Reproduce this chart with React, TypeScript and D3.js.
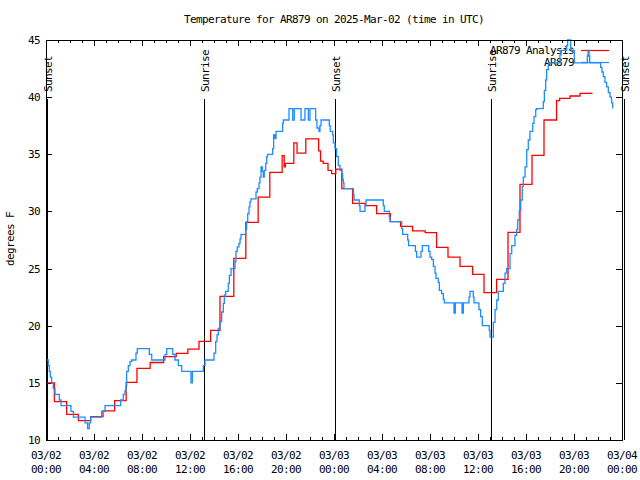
import React from "react";
import * as d3 from "d3";

// ---- data (hours since 03/02 00:00 UTC, degrees F) ----
const analysisHours = [0, 0.7, 1.72, 2.7, 3.72, 4.75, 5.72, 6.68, 7.58, 8.68, 9.8, 10.85, 11.82, 12.75, 13.72, 14.5, 15.65, 16.65, 17.68, 18.65, 19.68, 19.85, 19.95, 20.65, 20.92, 21.65, 22.72, 22.88, 23.1, 23.5, 23.8, 24.15, 24.65, 25.55, 26.6, 27.55, 28.7, 29.55, 30.55, 31.6, 32.55, 33.5, 34.5, 35.55, 36.5, 37.55, 38.5, 39.5, 40.5, 41.5, 42.55, 42.8, 43.67, 44.5, 45.55];
const analysisTemps = [15.0, 13.35, 12.25, 11.7, 12.05, 12.55, 13.45, 15.05, 16.27, 16.78, 17.3, 17.58, 17.95, 18.63, 19.6, 22.57, 25.9, 29.05, 31.26, 33.42, 34.88, 33.9, 34.2, 36.0, 35.1, 36.34, 35.3, 34.4, 34.2, 33.6, 33.3, 33.7, 32.0, 30.7, 30.5, 29.8, 29.1, 28.7, 28.3, 28.15, 26.86, 26.0, 25.2, 24.5, 22.9, 24.06, 28.17, 32.37, 34.9, 38.0, 39.7, 39.9, 40.1, 40.33, 40.33];

const obsHours = [0, 0.19, 0.28, 0.36, 0.47, 0.61, 0.75, 1.11, 1.25, 2.08, 2.28, 3.25, 3.47, 3.61, 3.72, 4.64, 4.92, 6.22, 6.44, 6.58, 6.67, 6.72, 6.86, 7.0, 7.14, 7.5, 7.61, 8.61, 8.81, 9.92, 10.06, 10.56, 10.75, 11.03, 11.31, 12.08, 12.2, 13.11, 13.25, 14.0, 14.14, 14.25, 14.36, 14.5, 14.64, 14.78, 14.86, 14.97, 15.19, 15.28, 15.42, 15.75, 15.83, 15.94, 16.08, 16.17, 16.25, 16.64, 16.72, 16.81, 16.92, 17.0, 17.08, 17.5, 17.61, 17.75, 17.83, 17.92, 18.03, 18.11, 18.19, 18.31, 18.39, 18.47, 18.89, 18.97, 19.08, 19.17, 19.72, 19.78, 20.25, 20.56, 20.69, 21.25, 21.58, 21.86, 22.0, 22.47, 22.58, 22.75, 22.83, 22.92, 23.61, 23.69, 23.89, 23.94, 24.08, 24.22, 24.36, 24.5, 24.64, 24.72, 24.78, 24.83, 25.61, 25.67, 26.11, 26.17, 26.58, 26.67, 28.11, 28.19, 28.61, 28.67, 29.64, 29.72, 30.14, 30.22, 30.78, 30.89, 31.25, 31.36, 31.89, 32.0, 32.14, 32.28, 32.42, 32.5, 32.69, 32.78, 32.97, 33.11, 33.19, 34.0, 34.11, 34.67, 34.78, 35.25, 35.33, 35.61, 35.67, 36.08, 36.22, 36.36, 36.94, 37.0, 37.28, 37.42, 37.56, 37.69, 38.11, 38.25, 38.39, 38.67, 38.81, 39.08, 39.22, 39.31, 39.44, 39.56, 39.69, 39.78, 39.92, 40.06, 40.19, 40.33, 40.56, 40.67, 40.81, 40.89, 41.44, 41.53, 41.64, 41.72, 41.86, 42.83, 42.92, 43.39, 43.47, 43.72, 43.81, 44.03, 45.11, 45.17, 45.25, 45.31, 46.22, 46.33, 46.44, 46.58, 46.72, 46.86, 47.0, 47.13, 47.22];
const obsTemps = [17.0, 16.5, 16.0, 15.5, 15.0, 14.5, 14.0, 13.5, 13.0, 12.5, 12.0, 11.5, 11.0, 11.5, 12.0, 12.5, 13.0, 13.5, 14.0, 14.3, 14.7, 16.0, 16.5, 16.85, 17.0, 17.6, 18.0, 17.5, 17.0, 17.5, 18.0, 17.5, 17.0, 16.5, 16.0, 15.0, 16.0, 16.5, 17.0, 17.6, 18.6, 19.2, 19.77, 20.35, 21.2, 21.96, 22.7, 23.0, 23.7, 24.4, 25.0, 25.6, 26.5, 26.9, 27.2, 27.6, 28.0, 28.4, 29.1, 29.8, 30.4, 30.85, 31.1, 31.7, 32.0, 32.5, 33.0, 33.9, 33.5, 33.0, 33.6, 34.2, 34.8, 35.0, 35.5, 36.7, 36.4, 37.0, 37.7, 38.0, 39.0, 38.0, 39.0, 38.0, 39.0, 38.0, 39.0, 38.0, 37.3, 37.0, 37.5, 38.0, 37.5, 37.0, 36.7, 36.0, 35.5, 34.8, 34.0, 33.6, 33.3, 32.8, 32.5, 32.0, 31.5, 31.0, 30.5, 30.0, 30.5, 31.0, 30.5, 30.0, 29.5, 29.1, 28.5, 28.0, 27.5, 27.0, 26.5, 26.0, 26.5, 27.0, 26.5, 26.0, 25.8, 25.2, 24.6, 24.15, 23.8, 23.1, 22.8, 22.3, 22.0, 21.1, 22.0, 21.1, 22.0, 22.5, 23.0, 22.5, 22.0, 21.4, 20.8, 20.0, 19.6, 19.0, 20.3, 21.4, 22.25, 23.0, 23.7, 24.6, 25.0, 26.3, 27.0, 27.9, 28.4, 29.25, 30.1, 31.0, 32.2, 33.0, 33.9, 35.4, 36.25, 37.0, 37.7, 38.3, 38.9, 39.0, 39.6, 40.6, 41.5, 42.4, 43.0, 43.7, 44.1, 44.5, 45.0, 44.3, 44.1, 43.0, 43.6, 44.1, 43.6, 43.0, 42.6, 42.2, 41.8, 41.3, 40.9, 40.4, 40.0, 39.5, 39.0];

const sunEventHours = [0.12, 13.17, 24.1, 37.08, 48.17];
const sunEventLabels = ["Sunset", "Sunrise", "Sunset", "Sunrise", "Sunset"];

const xTickHours = [0, 4, 8, 12, 16, 20, 24, 28, 32, 36, 40, 44, 48];
const xTickDates = ["03/02", "03/02", "03/02", "03/02", "03/02", "03/02", "03/03", "03/03", "03/03", "03/03", "03/03", "03/03", "03/04"];
const xTickTimes = ["00:00", "04:00", "08:00", "12:00", "16:00", "20:00", "00:00", "04:00", "08:00", "12:00", "16:00", "20:00", "00:00"];
const yTicks = [10, 15, 20, 25, 30, 35, 40, 45];

const seriesNames = ["AR879 Analysis", "AR879"];
const seriesColors = ["#ff0000", "#1e8cff"];

const titleText = "Temperature for AR879 on 2025-Mar-02 (time in UTC)";
const yLabel = "degrees F";

const FONT = "'DejaVu Sans Mono', monospace";

export default function App() {
  const L = 46, R = 622, T = 40, B = 440;
  const x = d3.scaleLinear().domain([0, 48]).range([L, R]);
  const y = d3.scaleLinear().domain([10, 45]).range([B, T]);

  const line = d3
    .line<[number, number]>()
    .x((d) => x(d[0]))
    .y((d) => y(d[1]))
    .curve(d3.curveStepAfter);

  const redPts: [number, number][] = analysisHours.map((h, i) => [h, analysisTemps[i]]);
  const bluePts: [number, number][] = obsHours.map((h, i) => [h, obsTemps[i]]);

  const minorHours = d3.range(0, 49, 1);
  const txt = { fontFamily: FONT, fontSize: 11, letterSpacing: -0.62, fill: "#000" } as const;

  return (
    <svg width={640} height={480} style={{ display: "block", position: "absolute", left: 0, top: 0, background: "#fff" }}>
      <rect x={0} y={0} width={640} height={480} fill="#fff" />
      <text x={334} y={23} textAnchor="middle" {...txt}>{titleText}</text>

      {/* y label */}
      <text transform={`translate(14,239) rotate(-90)`} textAnchor="middle" {...txt}>{yLabel}</text>

      {/* ticks */}
      <g stroke="#000" strokeWidth={1} shapeRendering="crispEdges">
        {minorHours.map((h) => {
          const major = h % 4 === 0;
          const len = major ? 6 : 3;
          const xx = Math.round(x(h)) + 0.5;
          return (
            <g key={"xt" + h}>
              <line x1={xx} x2={xx} y1={B} y2={B - len} />
              <line x1={xx} x2={xx} y1={T} y2={T + len} />
            </g>
          );
        })}
        {yTicks.map((v) => {
          const yy = Math.round(y(v)) + 0.5;
          return (
            <g key={"yt" + v}>
              <line x1={L} x2={L + 6} y1={yy} y2={yy} />
              <line x1={R} x2={R - 6} y1={yy} y2={yy} />
            </g>
          );
        })}
      </g>

      {yTicks.map((v) => (
        <text key={"yl" + v} x={40} y={y(v) + 4} textAnchor="end" {...txt}>{v}</text>
      ))}
      {xTickHours.map((h, i) => (
        <g key={"xl" + h}>
          <text x={x(h)} y={459} textAnchor="middle" {...txt}>{xTickDates[i]}</text>
          <text x={x(h)} y={473} textAnchor="middle" {...txt}>{xTickTimes[i]}</text>
        </g>
      ))}

      {/* sun events */}
      {sunEventHours.map((h, i) => {
        const xx = Math.round(x(h)) + 0.5;
        return (
          <g key={"se" + i}>
            <line x1={xx} x2={xx} y1={99} y2={B} stroke="#000" strokeWidth={1} shapeRendering="crispEdges" />
            <text transform={`translate(${xx + 4},92) rotate(-90)`} textAnchor="start" {...txt}>{sunEventLabels[i]}</text>
          </g>
        );
      })}

      {/* legend */}
      {seriesNames.map((name, i) => {
        const ly = 50 + i * 12;
        return (
          <g key={"lg" + i}>
            <text x={574} y={ly + 4} textAnchor="end" {...txt}>{name}</text>
            <line x1={581} x2={609} y1={ly + 0.5} y2={ly + 0.5} stroke={seriesColors[i]} strokeWidth={1.2} />
          </g>
        );
      })}

      {/* data */}
      <path d={line(redPts) || ""} fill="none" stroke={seriesColors[0]} strokeWidth={1.3} />
      <path d={line(bluePts) || ""} fill="none" stroke={seriesColors[1]} strokeWidth={1.3} />

      {/* border */}
      <rect x={L + 0.5} y={T + 0.5} width={R - L} height={B - T} fill="none" stroke="#000" strokeWidth={1} shapeRendering="crispEdges" />
    </svg>
  );
}
